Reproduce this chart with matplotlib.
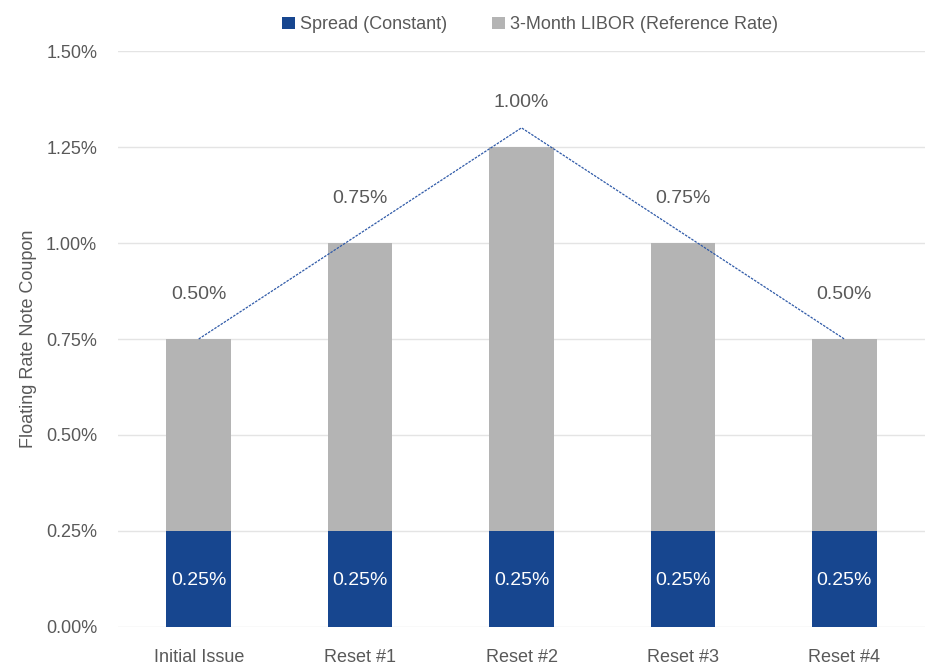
import numpy as np
import matplotlib
matplotlib.use('Agg')
import matplotlib.pyplot as plt
from matplotlib.ticker import FuncFormatter

plt.rcParams['font.family'] = ['Liberation Sans Narrow', 'Liberation Sans', 'DejaVu Sans']

# data
categories = ['Initial Issue', 'Reset #1', 'Reset #2', 'Reset #3', 'Reset #4']
spread = [0.25, 0.25, 0.25, 0.25, 0.25]
libor = [0.50, 0.75, 1.00, 0.75, 0.50]
trend_idx = [0, 2, 4]
trend_val = [0.75, 1.30, 0.75]

navy = '#17468f'
grey = '#b4b4b4'
txt = '#595959'

fig = plt.figure(figsize=(9.3, 6.67), dpi=100)
ax = fig.add_axes([118/930, 0.06, (925-118)/930, 0.8635])

x = np.arange(len(categories))
ax.bar(x, spread, 0.4, color=navy, label='Spread (Constant)', zorder=3)
ax.bar(x, libor, 0.4, bottom=spread, color=grey, label='3-Month LIBOR (Reference Rate)', zorder=3)
ax.plot(trend_idx, trend_val, color='#2f5aa8', lw=0.9, ls=(0, (2, 1)), zorder=4)

for i in range(len(categories)):
    ax.text(x[i], spread[i] / 2 - 0.005, '%.2f%%' % spread[i], ha='center', va='center',
            color='white', fontsize=14, zorder=5)
    ax.text(x[i], spread[i] + libor[i] + 0.115, '%.2f%%' % libor[i], ha='center', va='center',
            color=txt, fontsize=14, zorder=5)

ax.set_xlim(-0.5, 4.5)
ax.set_ylim(0, 1.5)
ax.set_yticks(np.arange(0, 1.51, 0.25))
ax.yaxis.set_major_formatter(FuncFormatter(lambda v, p: '%.2f%%' % v))
ax.set_xticks(x)
ax.set_xticklabels(categories)
ax.tick_params(length=0, labelsize=13, colors=txt)
ax.tick_params(axis='x', pad=16)
ax.tick_params(axis='y', pad=15)
ax.grid(axis='y', color='#e4e4e4', lw=1, zorder=0)
for s in ax.spines.values():
    s.set_visible(False)
ax.set_ylabel('Floating Rate Note Coupon', color=txt, fontsize=13)
ax.yaxis.set_label_coords(-0.1, 0.5)

fig.legend(loc='upper center', bbox_to_anchor=(0.57, 1.0), ncol=2, frameon=False,
           fontsize=13, labelcolor=txt, handlelength=0.7, handleheight=0.7,
           handletextpad=0.3, columnspacing=2.5)

fig.savefig('out.png', dpi=100)
